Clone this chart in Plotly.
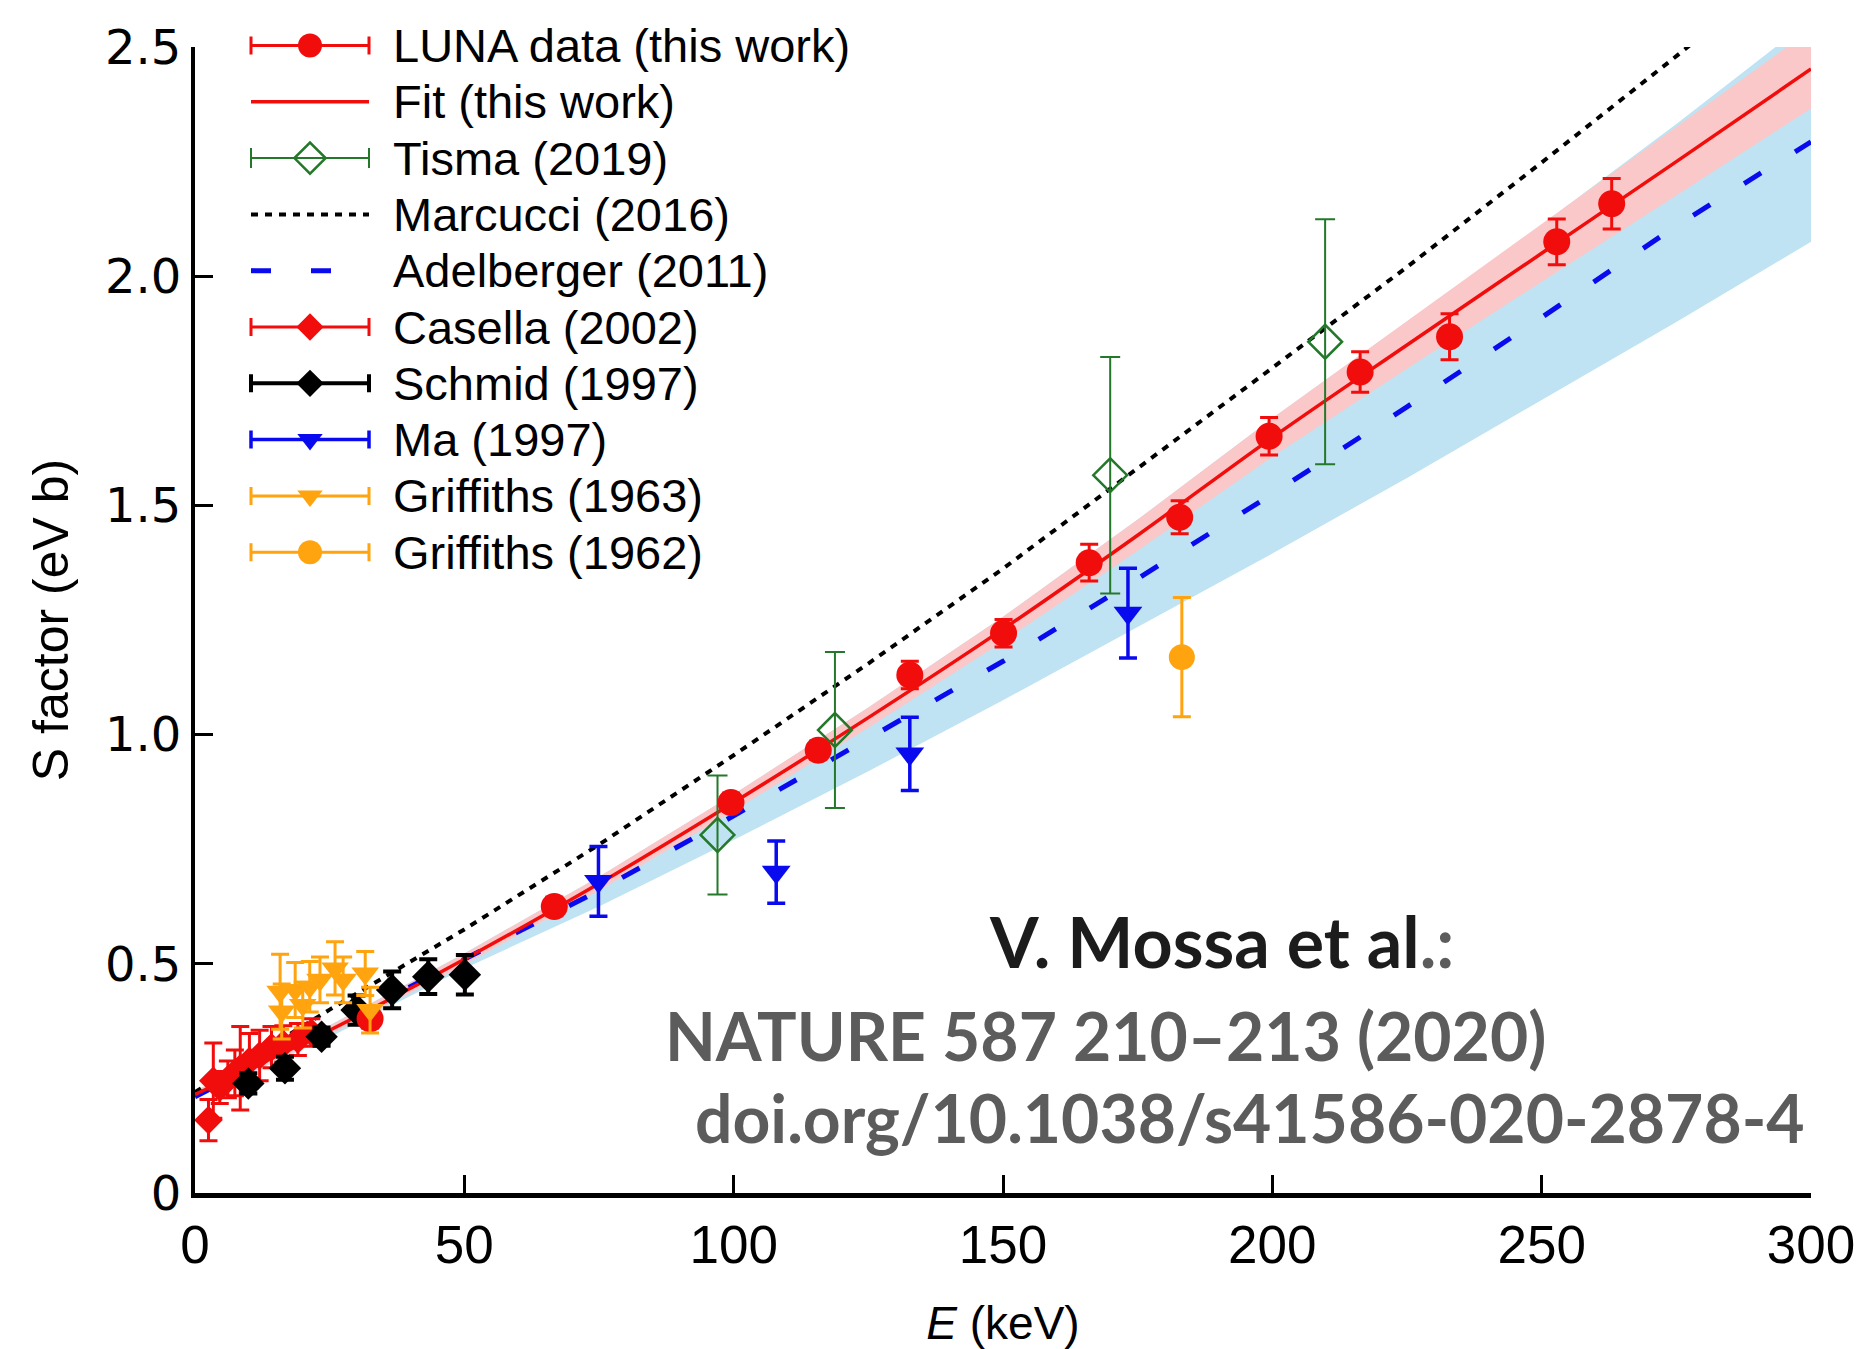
import plotly.graph_objects as go

# ---------------- data ----------------
luna_E = [32.5, 66.7, 99.5, 115.7, 132.7, 150.1, 166.0, 182.8, 199.4, 216.3, 232.9, 252.8, 263.0]
luna_S = [0.380, 0.625, 0.852, 0.966, 1.130, 1.221, 1.375, 1.474, 1.651, 1.791, 1.868, 2.075, 2.158]
luna_err = [0.02, 0.02, 0.02, 0.02, 0.03, 0.03, 0.040, 0.036, 0.041, 0.044, 0.050, 0.050, 0.055]

tisma_E = [97.0, 118.8, 169.9, 209.8]
tisma_S = [0.781, 1.010, 1.566, 1.857]
tisma_err = [0.130, 0.170, 0.258, 0.267]

casella_E = [2.5, 3.4, 4.6, 6.1, 7.4, 8.4, 10.1, 12.0, 14.2, 16.4, 19.1, 21.6]
casella_S = [0.159, 0.245, 0.230, 0.248, 0.262, 0.272, 0.288, 0.300, 0.318, 0.325, 0.335, 0.350]
casella_err = [0.045, 0.082, 0.035, 0.040, 0.050, 0.091, 0.060, 0.055, 0.045, 0.040, 0.035, 0.030]

schmid_E = [9.9, 16.7, 23.5, 30.0, 36.6, 43.3, 50.1]
schmid_S = [0.239, 0.272, 0.341, 0.399, 0.443, 0.472, 0.476]
schmid_err = [0.022, 0.025, 0.020, 0.032, 0.040, 0.038, 0.043]

ma_E = [74.9, 107.9, 132.7, 173.2]
ma_S = [0.680, 0.700, 0.958, 1.265]
ma_err = [0.076, 0.068, 0.080, 0.098]

griff63_E = [15.8, 16.1, 18.6, 20.0, 21.3, 23.2, 26.0, 27.5, 31.6, 32.5]
griff63_S = [0.439, 0.396, 0.443, 0.410, 0.450, 0.465, 0.490, 0.465, 0.479, 0.399]
griff63_err = [0.082, 0.060, 0.060, 0.050, 0.055, 0.050, 0.058, 0.050, 0.048, 0.050]

griff62_E = [183.2]
griff62_S = [1.169]
griff62_err = [0.130]

# curves and uncertainty bands
curve_E = [0, 25, 50, 75, 100, 125, 150, 175, 200, 225, 250, 275, 300]
fit_S = [0.215, 0.355, 0.510, 0.675, 0.852, 1.037, 1.230, 1.435, 1.648, 1.850, 2.050, 2.250, 2.452]
fit_lo = [0.207, 0.345, 0.498, 0.660, 0.834, 1.015, 1.203, 1.401, 1.606, 1.798, 1.988, 2.176, 2.366]
fit_hi = [0.223, 0.365, 0.522, 0.690, 0.870, 1.059, 1.257, 1.469, 1.690, 1.902, 2.112, 2.324, 2.538]
adel_S = [0.210, 0.360, 0.510, 0.660, 0.823, 0.990, 1.160, 1.340, 1.525, 1.715, 1.910, 2.110, 2.293]
adel_lo = [0.205, 0.340, 0.490, 0.625, 0.770, 0.920, 1.075, 1.235, 1.395, 1.560, 1.730, 1.900, 2.075]
adel_hi = [0.222, 0.366, 0.523, 0.690, 0.870, 1.059, 1.257, 1.469, 1.690, 1.902, 2.112, 2.332, 2.560]
marc_E = [0, 25, 50, 75, 100, 125, 150, 175, 200, 225, 250, 275, 285]
marc_S = [0.220, 0.400, 0.575, 0.760, 0.955, 1.155, 1.362, 1.580, 1.800, 2.020, 2.248, 2.480, 2.575]

x_ticks = [0, 50, 100, 150, 200, 250, 300]
x_ticktext = ["0", "50", "100", "150", "200", "250", "300"]
y_ticks = [0, 0.5, 1.0, 1.5, 2.0, 2.5]
y_ticktext = ["0", "0.5", "1.0", "1.5", "2.0", "2.5"]

legend_names = ["LUNA data (this work)", "Fit (this work)", "Tisma (2019)", "Marcucci (2016)",
                "Adelberger (2011)", "Casella (2002)", "Schmid (1997)", "Ma (1997)",
                "Griffiths (1963)", "Griffiths (1962)"]

# ---------------- styles ----------------
RED = "#f20d0d"
GREEN = "#24782a"
BLUE = "#0a0aee"
ORANGE = "#ffa30f"
BLACK = "#000000"
PINK_BAND = "#fac8c8"
BLUE_BAND = "#bfe3f2"
FONT = "Liberation Sans, Arial, sans-serif"

fig = go.Figure()

# bands
fig.add_trace(go.Scatter(x=curve_E, y=adel_lo, mode="lines", line=dict(width=0), hoverinfo="skip"))
fig.add_trace(go.Scatter(x=curve_E, y=adel_hi, mode="lines", line=dict(width=0), fill="tonexty",
                         fillcolor=BLUE_BAND, hoverinfo="skip"))
fig.add_trace(go.Scatter(x=curve_E, y=fit_lo, mode="lines", line=dict(width=0), hoverinfo="skip"))
fig.add_trace(go.Scatter(x=curve_E, y=fit_hi, mode="lines", line=dict(width=0), fill="tonexty",
                         fillcolor=PINK_BAND, hoverinfo="skip"))

# theory / fit curves
ADEL_LINE = dict(color=BLUE, width=5, dash="20px,40px")
MARC_LINE = dict(color=BLACK, width=4, dash="7px,7px")
FIT_LINE = dict(color=RED, width=3.5)
fig.add_trace(go.Scatter(x=curve_E, y=adel_S, mode="lines", line=ADEL_LINE))
fig.add_trace(go.Scatter(x=marc_E, y=marc_S, mode="lines", line=MARC_LINE))
fig.add_trace(go.Scatter(x=curve_E, y=fit_S, mode="lines", line=FIT_LINE, line_shape="spline"))

# data sets: (E, S, err, marker, errorbar style, legend marker size); dict order = drawing order
series = {
    "Casella (2002)": (casella_E, casella_S, casella_err,
                       dict(symbol="diamond", size=22, color=RED), dict(color=RED, thickness=3, width=9), 21),
    "Schmid (1997)": (schmid_E, schmid_S, schmid_err,
                      dict(symbol="diamond", size=25, color=BLACK), dict(color=BLACK, thickness=4, width=9), 21),
    "Ma (1997)": (ma_E, ma_S, ma_err,
                  dict(symbol="triangle-down", size=25, color=BLUE), dict(color=BLUE, thickness=3.5, width=9), 22),
    "Griffiths (1962)": (griff62_E, griff62_S, griff62_err,
                         dict(symbol="circle", size=26, color=ORANGE), dict(color=ORANGE, thickness=3, width=9), 24),
    "Tisma (2019)": (tisma_E, tisma_S, tisma_err,
                     dict(symbol="diamond-open", size=26, color=GREEN, line=dict(width=2.5, color=GREEN)),
                     dict(color=GREEN, thickness=2, width=10), 24),
    "LUNA data (this work)": (luna_E, luna_S, luna_err,
                              dict(symbol="circle", size=27, color=RED), dict(color=RED, thickness=3, width=9), 24),
    "Griffiths (1963)": (griff63_E, griff63_S, griff63_err,
                         dict(symbol="triangle-down", size=24, color=ORANGE), dict(color=ORANGE, thickness=3, width=9), 22),
}
for name, (E, S, err, mk, eb, _) in series.items():
    fig.add_trace(go.Scatter(x=E, y=S, mode="markers", marker=mk, name=name,
                             error_y=dict(type="data", array=err, symmetric=True, **eb)))

# ---------------- custom legend (long glyphs with error-bar caps) ----------------
# overlay axes x2/y2 are expressed in figure pixels
line_items = {"Fit (this work)": FIT_LINE, "Marcucci (2016)": MARC_LINE, "Adelberger (2011)": ADEL_LINE}
row0, drow = 45.5, 56.3
g_left, g_mid, g_right, t_left = 251, 310, 369, 391
annotations = []
for i, name in enumerate(legend_names):
    yrow = row0 + i * drow
    if name in line_items:
        fig.add_trace(go.Scatter(x=[g_left, g_right], y=[yrow, yrow], mode="lines",
                                 line=line_items[name], xaxis="x2", yaxis="y2", hoverinfo="skip"))
    else:
        E, S, err, mk, eb, lsize = series[name]
        mk2 = dict(mk)
        mk2["size"] = lsize
        fig.add_trace(go.Scatter(x=[g_mid], y=[yrow], mode="markers", marker=mk2, cliponaxis=False,
                                 error_x=dict(type="constant", value=g_right - g_mid, **eb),
                                 xaxis="x2", yaxis="y2", hoverinfo="skip"))
    annotations.append(dict(x=t_left, y=yrow, xref="x2", yref="y2", text=name, showarrow=False,
                            xanchor="left", yanchor="middle", font=dict(family=FONT, size=47, color="black")))

# citation text (pixel positions through the overlay axes)
CFONT = "Lato, Open Sans, sans-serif"
annotations += [
    dict(x=1221, y=941, xref="x2", yref="y2", showarrow=False, xanchor="center", yanchor="middle",
         text="<b>V. Mossa et al</b><b><span style='color:#5c5c5c'>.:</span></b>",
         font=dict(family=CFONT, size=70, color="#1c1c1c")),
    dict(x=663, y=1035, xref="x2", yref="y2", showarrow=False, xanchor="left", yanchor="middle",
         text="<b>NATURE 587 210–213 (2020)</b>", font=dict(family=CFONT, size=66, color="#5c5c5c")),
    dict(x=1807, y=1117, xref="x2", yref="y2", showarrow=False, xanchor="right", yanchor="middle",
         text="<b>doi.org/10.1038/s41586-020-2878-4</b>", font=dict(family=CFONT, size=66, color="#5c5c5c")),
]

fig.update_traces(showlegend=False)
fig.update_layout(
    width=1870, height=1349,
    margin=dict(l=195, r=59, t=20, b=156),
    paper_bgcolor="white", plot_bgcolor="rgba(0,0,0,0)",
    showlegend=False,
    annotations=annotations,
    xaxis=dict(range=[0, 300], tickvals=x_ticks, ticktext=x_ticktext, ticks="inside", ticklen=18,
               tickwidth=2.5, tickcolor="black", showline=True, linecolor="black", linewidth=4.5,
               showgrid=False, zeroline=False, ticklabelstandoff=2,
               tickfont=dict(family=FONT, size=53, color="black"),
               title=dict(text="<i>E</i> (keV)", font=dict(family=FONT, size=46, color="black"), standoff=58),
               automargin=False),
    yaxis=dict(domain=[0, 1146 / 1173], range=[0, 2.5], tickvals=y_ticks, ticktext=y_ticktext,
               ticks="inside", ticklen=18,
               tickwidth=3, tickcolor="black", showline=True, linecolor="black", linewidth=4,
               showgrid=False, zeroline=False, ticklabelstandoff=0,
               tickfont=dict(family="DejaVu Sans, sans-serif", size=48, color="black"),
               title=dict(text="S factor (eV b)", font=dict(family=FONT, size=50, color="black"), standoff=22),
               automargin=False),
    xaxis2=dict(domain=[0, 1], range=[195, 1811], visible=False, anchor="y2", fixedrange=True),
    yaxis2=dict(domain=[0, 1], range=[1193, 20], visible=False, anchor="x2", fixedrange=True),
)

fig.write_html("out.html")
